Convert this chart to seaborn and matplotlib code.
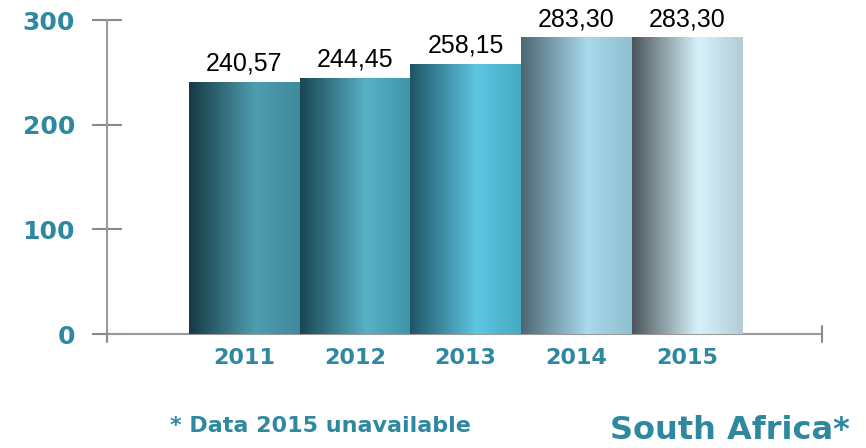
import matplotlib.pyplot as plt
import matplotlib.colors as mcolors
import numpy as np
import pandas as pd
import seaborn as sns

years = ["2011", "2012", "2013", "2014", "2015"]
values = [240.57, 244.45, 258.15, 283.30, 283.30]
labels = ["240,57", "244,45", "258,15", "283,30", "283,30"]
# left (dark) / middle (light) / right colours of each cylinder
dark_cols = ["#163a44", "#1a4653", "#1e5566", "#4d6772", "#4a555b"]
light_cols = ["#4f9db0", "#58b0c6", "#5ec6e2", "#a8d9ec", "#d8f2fb"]
right_cols = ["#3f8a9c", "#3f94aa", "#45a9c2", "#8fbfd0", "#b3cbd4"]

teal = "#2e88a0"

df = pd.DataFrame({"year": years, "value": values})

sns.set_style("white")
plt.rcParams["font.family"] = ["DejaVu Sans"]

fig = plt.figure(figsize=(8.66, 4.48), dpi=100)
ax = fig.add_axes([107 / 866, 114 / 448, 715 / 866, 314 / 448])

sns.barplot(data=df, x="year", y="value", width=1.0, color="#3f8a9c", ax=ax, zorder=2)

# cylinder-like horizontal gradient in each bar
for i, patch in enumerate(ax.patches):
    cmap = mcolors.LinearSegmentedColormap.from_list(
        "c%d" % i, [(0, dark_cols[i]), (0.6, light_cols[i]), (1, right_cols[i])])
    x0, y0 = patch.get_x(), patch.get_y()
    w, h = patch.get_width(), patch.get_height()
    grad = np.linspace(0, 1, 256).reshape(1, -1)
    im = ax.imshow(grad, cmap=cmap, extent=[x0, x0 + w, y0, y0 + h],
                   aspect="auto", zorder=3, origin="lower")
    im.set_clip_path(patch)
    patch.set_edgecolor("none")
    ax.text(i, values[i] + 6, labels[i], ha="center", va="bottom",
            fontsize=18, color="black", family="Liberation Sans")

ax.set_xlim(-1.24, 5.22)
ax.set_ylim(0, 300)

for s in ["top", "right"]:
    ax.spines[s].set_visible(False)
for s in ["left", "bottom"]:
    ax.spines[s].set_color("#9a9a9a")
    ax.spines[s].set_linewidth(1.5)

ax.set_yticks([0, 100, 200, 300])
ax.tick_params(axis="y", left=True, direction="inout", length=22, width=1.5,
               color="#8a8a8a", labelsize=18, labelcolor=teal, pad=12)
ax.tick_params(axis="x", length=0, labelsize=16, labelcolor=teal, pad=10)
for t in ax.get_yticklabels() + ax.get_xticklabels():
    t.set_fontweight("bold")
ax.set_xlabel("")
ax.set_ylabel("")

# end tick of the x axis
ax.plot([5.22, 5.22], [-8, 8], color="#8a8a8a", lw=1.5, clip_on=False, zorder=4)
ax.plot([-1.24, -1.24], [-8, 0], color="#8a8a8a", lw=1.5, clip_on=False, zorder=4)

fig.text(170 / 866, 1 - 426 / 448, "* Data 2015 unavailable", fontsize=16,
         fontweight="bold", color=teal, va="center")
fig.text(850 / 866, 1 - 430 / 448, "South Africa*", fontsize=23,
         fontweight="bold", color=teal, va="center", ha="right")

fig.savefig("out.png", dpi=100)
